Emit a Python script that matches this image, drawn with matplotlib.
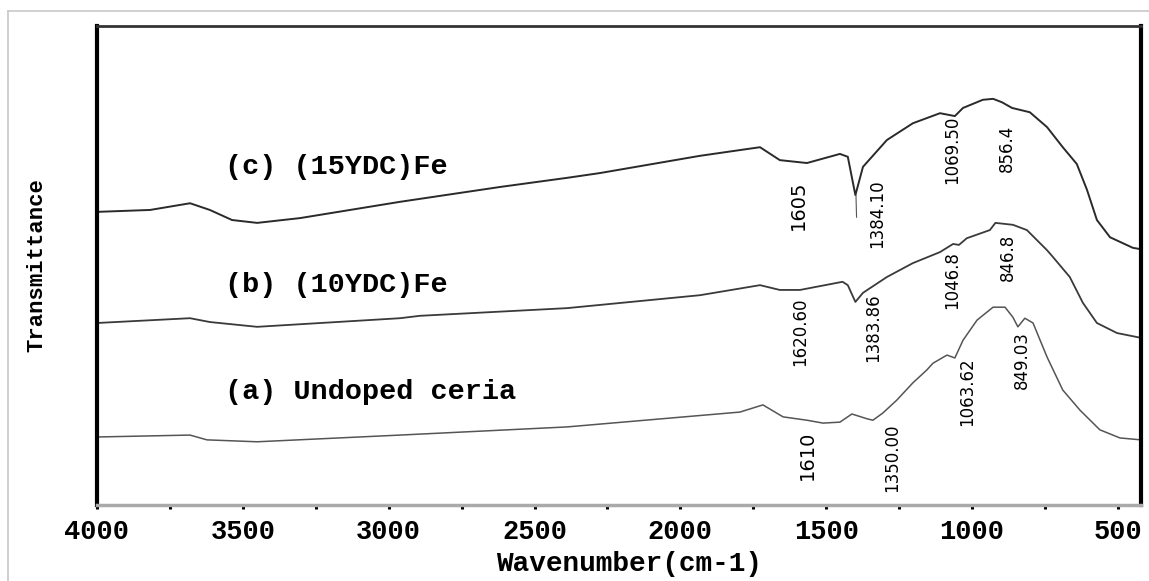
import numpy as np
import matplotlib.pyplot as plt
from matplotlib.lines import Line2D

# ---------------------------------------------
# data (wavenumber cm-1, transmittance a.u.)
# ---------------------------------------------
wn_c = [4000, 3818, 3681, 3613, 3537, 3451, 3304, 2961, 2618, 2389, 2276, 1933,
        1796, 1727, 1659, 1566, 1453, 1426, 1400, 1374, 1292, 1203, 1110, 1059,
        1031, 963, 928, 898, 863, 802, 743, 689, 641, 606, 572, 527, 449, 421]
tr_c = [61.2, 61.6, 63.0, 61.6, 59.5, 58.9, 59.9, 63.3, 66.4, 68.3, 69.3, 72.9,
        74.1, 74.7, 72.0, 71.4, 73.3, 72.7, 64.7, 70.6, 76.2, 79.7, 81.8, 81.2,
        82.9, 84.6, 84.8, 84.1, 82.9, 82.0, 78.9, 74.7, 71.2, 65.8, 59.5, 55.9, 53.7, 53.4]

wn_b = [4000, 3681, 3613, 3451, 2961, 2893, 2389, 1933, 1727, 1659, 1590, 1444,
        1426, 1400, 1374, 1292, 1203, 1110, 1065, 1045, 1018, 939, 920, 860, 812,
        743, 723, 665, 620, 572, 503, 421]
tr_b = [38.0, 39.0, 38.2, 37.2, 39.0, 39.5, 41.1, 43.8, 45.9, 44.9, 44.9, 46.6,
        45.9, 42.4, 44.3, 47.6, 50.5, 52.8, 54.5, 54.3, 55.7, 57.4, 58.9, 58.5, 57.4,
        53.2, 51.8, 47.6, 42.2, 38.0, 35.9, 34.9]

wn_a = [4000, 3681, 3623, 3451, 2961, 2389, 1796, 1717, 1648, 1566, 1511, 1453,
        1412, 1360, 1340, 1306, 1258, 1203, 1155, 1134, 1086, 1059, 1031, 983,
        928, 887, 860, 843, 819, 791, 743, 689, 630, 562, 493, 421]
tr_a = [14.2, 14.6, 13.6, 13.2, 14.6, 16.3, 19.4, 20.9, 18.4, 17.7, 17.1, 17.3,
        19.0, 18.0, 17.7, 19.2, 21.9, 25.5, 28.2, 29.6, 31.3, 30.7, 34.4, 38.6,
        41.3, 41.3, 39.2, 37.2, 39.0, 38.0, 30.9, 24.0, 19.8, 15.7, 14.0, 13.6]

sample_names = ["(c) (15YDC)Fe", "(b) (10YDC)Fe", "(a) Undoped ceria"]
name_y = [70.6, 45.9, 23.6]

peak_text = ["1605", "1384.10", "1069.50", "856.4",
             "1620.60", "1383.86", "1046.8", "846.8",
             "1610", "1350.00", "1063.62", "849.03"]
peak_x = [1597, 1326, 1069, 880, 1590, 1340, 1069, 877, 1566, 1275, 1018, 829]
peak_y = [62.6, 60.8, 74.1, 74.5, 36.1, 37.0, 47.0, 51.6, 10.4, 9.8, 23.6, 30.3]
wide_font = ["1605", "1610"]

# ---------------------------------------------
# figure
# ---------------------------------------------
fig = plt.figure(figsize=(11.49, 5.81), dpi=100)
ax = fig.add_axes([0.0844, 0.1308, 0.9086, 0.8244])

ax.plot(wn_c, tr_c, color="#2a2a2a", lw=1.4)
ax.plot(wn_b, tr_b, color="#3a3a3a", lw=1.3)
ax.plot(wn_a, tr_a, color="#555555", lw=1.1)

# leader under the 1384 dip
ax.plot([1398, 1396], [64.7, 60.1], color="#555555", lw=0.8)

mono = ["Liberation Mono", "DejaVu Sans Mono"]
for name, y in zip(sample_names, name_y):
    ax.text(3560, y, name, fontsize=20.5, fontweight="bold", family=mono,
            va="center", ha="left")

for t, x, y in zip(peak_text, peak_x, peak_y):
    if t in wide_font:
        ax.text(x, y, t, rotation=90, fontsize=14, family="DejaVu Sans",
                ha="center", va="center")
    else:
        ax.text(x, y, t, rotation=90, fontsize=12,
                family=["Liberation Sans Narrow", "DejaVu Sans Condensed", "DejaVu Sans"],
                ha="center", va="center")

ax.set_xlim(4000, 421)
ax.set_ylim(0, 100)
ax.set_yticks([])
ax.set_xticks(np.arange(4000, 499, -500))
ax.set_xticks(np.arange(3750, 499, -500), minor=True)
ax.set_xticklabels([str(v) for v in np.arange(4000, 499, -500)],
                   fontsize=19.5, fontweight="bold", family=mono)
ax.tick_params(axis="x", which="both", direction="out", length=3, width=2.2,
               color="black", pad=7)

ax.set_xlabel("Wavenumber(cm-1)", fontsize=20, fontweight="bold", family=mono)
ax.xaxis.set_label_coords(0.51, -0.095)
ax.set_ylabel("Transmittance", fontsize=16, fontweight="bold", family=mono,
              labelpad=36)

ax.spines["left"].set_linewidth(3)
ax.spines["right"].set_linewidth(3)
ax.spines["top"].set_linewidth(2)
ax.spines["top"].set_color("#333333")
ax.spines["bottom"].set_linewidth(2.5)
ax.spines["bottom"].set_color("#aaaaaa")

# thin grey frame of the scanned figure
fig.add_artist(Line2D([0.007, 1.0], [0.981, 0.981], color="#c8c8c8", lw=1.2))
fig.add_artist(Line2D([0.007, 0.007], [0.0, 0.981], color="#c8c8c8", lw=1.2))

fig.savefig("out.png", dpi=100)
